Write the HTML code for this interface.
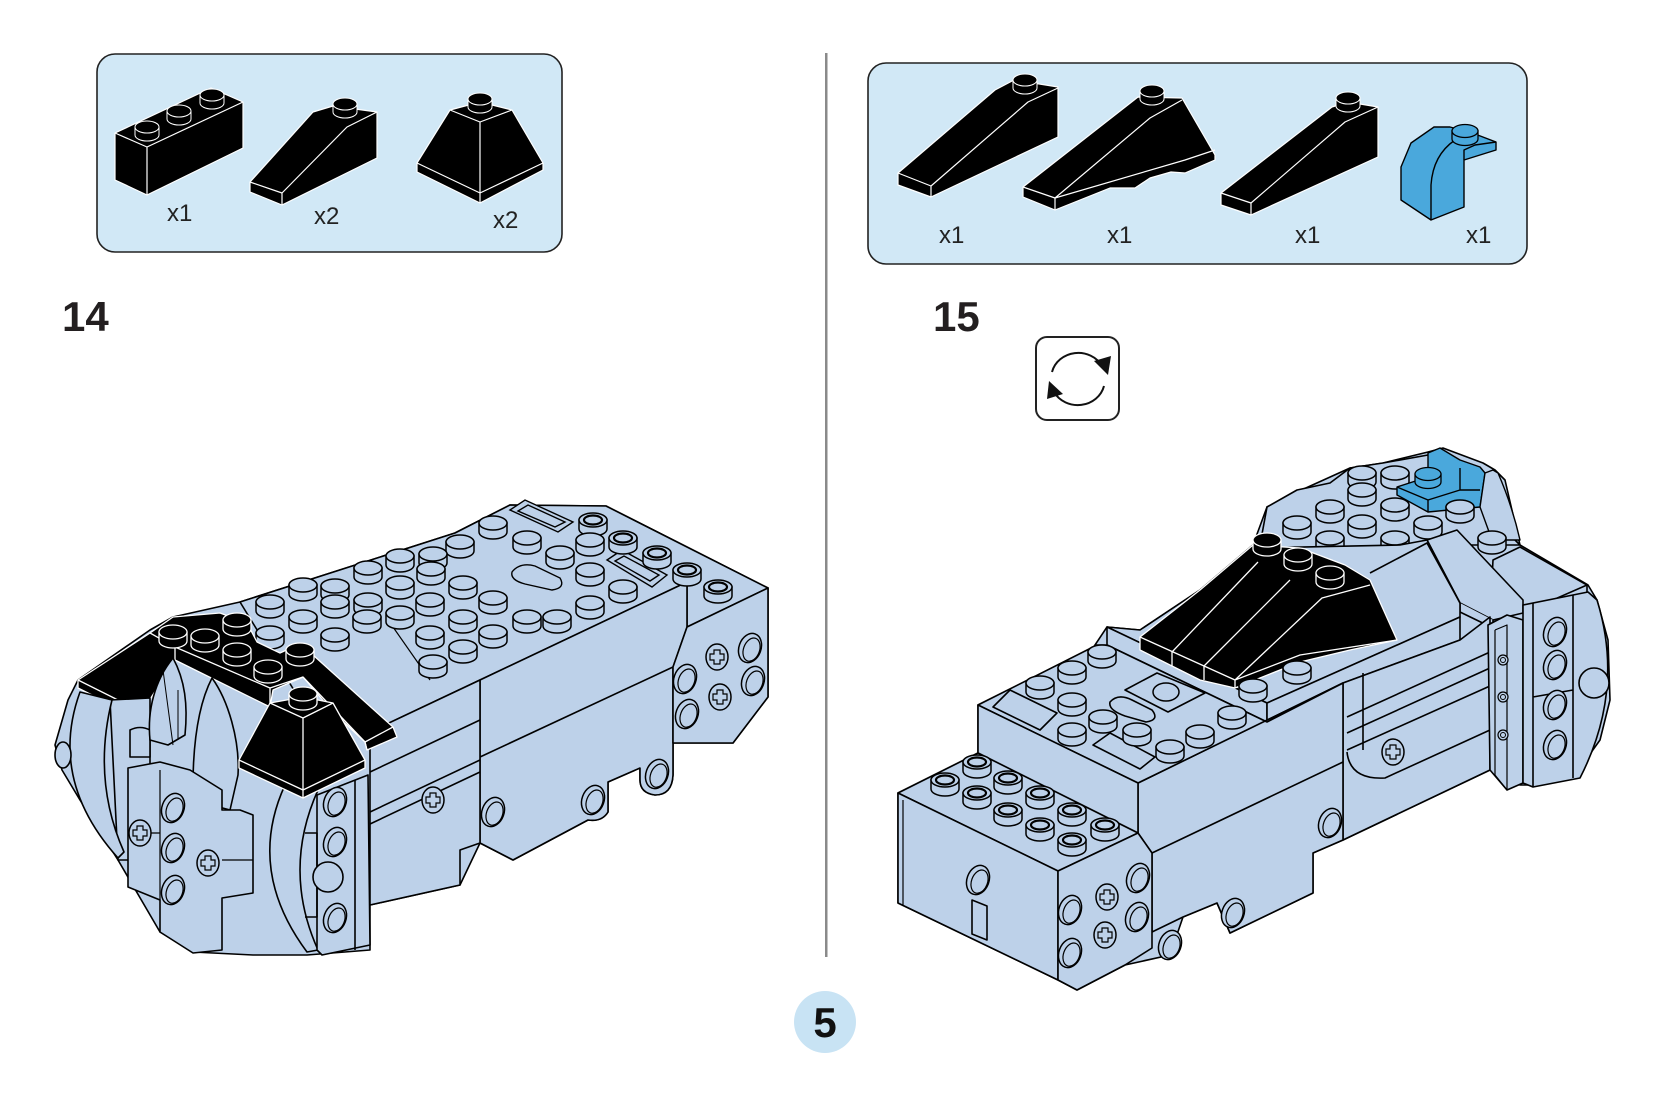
<!DOCTYPE html>
<html><head><meta charset="utf-8"><style>
html,body{margin:0;padding:0;background:#fff;}
svg{display:block;}
text{font-family:"Liberation Sans",Arial,sans-serif;}
</style></head><body>
<svg width="1654" height="1102" viewBox="0 0 1654 1102" xmlns="http://www.w3.org/2000/svg">
<defs>
<g id="st"><path d="M-14,0V9A14,7 0 0 0 14,9V0Z" fill="#bdd1e9" stroke="#000" stroke-width="1.5"/><ellipse rx="14" ry="7" fill="#bdd1e9" stroke="#000" stroke-width="1.5"/></g>
<g id="sh"><path d="M-14,0V9A14,7 0 0 0 14,9V0Z" fill="#bdd1e9" stroke="#000" stroke-width="1.5"/><ellipse rx="14" ry="7" fill="#bdd1e9" stroke="#000" stroke-width="1.5"/><ellipse rx="9" ry="4.5" fill="none" stroke="#000" stroke-width="2.2"/></g>
<g id="sb"><path d="M-14,0V9A14,7 0 0 0 14,9V0Z" fill="#000" stroke="#fff" stroke-width="1.3"/><ellipse rx="14" ry="7" fill="#000" stroke="#fff" stroke-width="1.3"/></g>
<g id="sk"><path d="M-12,0V8A12,6 0 0 0 12,8V0Z" fill="#000" stroke="#fff" stroke-width="1"/><ellipse rx="12" ry="6" fill="#000" stroke="#fff" stroke-width="1"/></g>
<g id="sbl"><path d="M-13,0V8A13,6.5 0 0 0 13,8V0Z" fill="#4aa8dc" stroke="#000" stroke-width="1.3"/><ellipse rx="13" ry="6.5" fill="#4aa8dc" stroke="#000" stroke-width="1.3"/></g>
<g id="ho"><ellipse rx="11" ry="15" transform="rotate(20)" fill="#bdd1e9" stroke="#000" stroke-width="1.5"/><ellipse cx="2" cy="1" rx="8" ry="12" transform="rotate(20)" fill="none" stroke="#000" stroke-width="1.2"/></g>
<g id="cx"><ellipse rx="11" ry="13" fill="#bdd1e9" stroke="#000" stroke-width="1.5"/><path d="M-3,-7h6v4h4v6h-4v4h-6v-4h-4v-6h4z" fill="none" stroke="#000" stroke-width="1.2"/></g>
<g id="sm"><circle r="5" fill="#bdd1e9" stroke="#000" stroke-width="1.2"/><circle r="2.5" fill="none" stroke="#000" stroke-width="1"/></g>
</defs>

<!-- divider -->
<rect x="825" y="53" width="2.5" height="904" fill="#8a8a8a"/>

<!-- parts box 1 -->
<rect x="97" y="54" width="465" height="198" rx="18" ry="18" fill="#d1e8f6" stroke="#222" stroke-width="1.6"/>
<g stroke="#fff" stroke-width="1.2" stroke-linejoin="round">
  <path d="M115,133 L211,88 L243,102 L243,148 L147,195 L115,180 Z" fill="#000"/>
  <path d="M115,133 L147,147 L243,102 M147,147 L147,195" fill="none"/>
  <path d="M250,182 L313,112 L333,106 L377,112 L377,158 L282,205 L250,192 Z" fill="#000"/>
  <path d="M250,182 L282,193 L282,205 M282,193 L347,127 L377,112" fill="none"/>
  <path d="M417,163 L450,110 L480,102 L512,110 L543,163 L543,170 L480,203 L417,172 Z" fill="#000"/>
  <path d="M417,163 L480,193 L543,163 M480,193 L480,203 M450,110 L480,122 L512,110 M480,122 L480,193" fill="none"/>
</g>
<use href="#sk" x="147" y="127"/><use href="#sk" x="179" y="111"/><use href="#sk" x="212" y="95"/>
<use href="#sk" x="345" y="104"/>
<use href="#sk" x="480" y="99"/>
<text x="167" y="221" font-size="24" fill="#222">x1</text>
<text x="314" y="224" font-size="24" fill="#222">x2</text>
<text x="493" y="228" font-size="24" fill="#222">x2</text>

<!-- parts box 2 -->
<rect x="868" y="63" width="659" height="201" rx="18" ry="18" fill="#d1e8f6" stroke="#222" stroke-width="1.6"/>
<g stroke="#fff" stroke-width="1.2" stroke-linejoin="round">
  <path d="M898,173 L995,90 L1014,80 L1058,87 L1058,137 L931,197 L898,185 Z" fill="#000"/>
  <path d="M898,173 L931,186 L931,197 M931,186 L1028,102 L1058,88" fill="none"/>
  <path d="M1023,187 L1138,97 L1182,98 L1215,155 L1215,160 L1185,173 L1171,172 L1150,178 L1135,188 L1110,188 L1055,210 L1023,197 Z" fill="#000"/>
  <path d="M1023,187 L1055,198 L1055,210 M1055,198 L1150,118 L1182,100 M1055,198 L1185,160 L1215,150" fill="none"/>
  <path d="M1221,193 L1332,107 L1348,102 L1378,107 L1378,157 L1251,215 L1221,205 Z" fill="#000"/>
  <path d="M1221,193 L1251,203 L1251,215 M1251,203 L1345,122 L1378,107" fill="none"/>
</g>
<use href="#sk" x="1025" y="80"/><use href="#sk" x="1152" y="91"/><use href="#sk" x="1348" y="98"/>
<g stroke="#000" stroke-width="1.4" stroke-linejoin="round">
  <path d="M1401,200 L1431,220 L1464,207 L1464,160 L1496,150 L1496,142 L1475,134 L1450,127 L1434,127 L1411,143 L1401,167 Z" fill="#4aa8dc"/>
  <path d="M1431,220 L1431,185 Q1433,155 1455,140 M1464,160 L1464,150 L1475,145 L1496,142" fill="none"/>
</g>
<use href="#sbl" x="1465" y="131"/>
<text x="939" y="243" font-size="24" fill="#222">x1</text>
<text x="1107" y="243" font-size="24" fill="#222">x1</text>
<text x="1295" y="243" font-size="24" fill="#222">x1</text>
<text x="1466" y="243" font-size="24" fill="#222">x1</text>

<!-- step numbers -->
<text x="62" y="331" font-size="42" font-weight="bold" fill="#231f20">14</text>
<text x="933" y="331" font-size="42" font-weight="bold" fill="#231f20">15</text>

<!-- rotate icon -->
<rect x="1036" y="337" width="83" height="83" rx="11" ry="11" fill="#fff" stroke="#222" stroke-width="2"/>
<path d="M1052,372 A27,25 0 0 1 1102,366" fill="none" stroke="#111" stroke-width="2"/>
<path d="M1108,375 L1094,361 L1111,356 Z" fill="#111"/>
<path d="M1104,386 A27,25 0 0 1 1054,392" fill="none" stroke="#111" stroke-width="2"/>
<path d="M1049,381 L1047,399 L1063,394 Z" fill="#111"/>

<!-- page number -->
<circle cx="825" cy="1022" r="31" fill="#c8e3f4"/>
<text x="825" y="1037" font-size="42" font-weight="bold" fill="#111" text-anchor="middle">5</text>

<!-- ================= LEFT MODEL ================= -->
<g stroke="#000" stroke-width="1.6" stroke-linejoin="round" fill="#bdd1e9">
  <path d="M55,745 L68,700 L78,680 L150,630 L173,617 L240,602 L455,533 L510,505 L606,506 L768,588 L768,697 L733,743 L673,743 L673,775 Q672,795 655,795 Q640,793 640,780 L640,768 L608,782 L608,812 Q602,822 588,820 L513,860 L480,843 L460,885 L370,905 L370,950 L307,955 L253,955 L193,952 L160,932 L118,860 L80,800 L62,770 Z"/>
  <path d="M240,602 L455,533 L510,505 L606,506 L768,588 L687,627 L687,582 L480,680 L370,732 L300,700 Z"/>
  <path d="M480,680 L687,582 L687,627 L673,667 L673,775 Q672,795 655,795 Q640,793 640,780 L640,768 L608,782 L608,812 Q602,822 588,820 L513,860 L480,843 Z"/>
  <path d="M480,757 L673,667" fill="none"/>
  <path d="M687,627 L768,588 L768,697 L733,743 L673,743 L673,667 Z"/>
  <path d="M370,732 L480,680 L480,843 L460,850 L460,885 L370,905 Z"/>
  <path d="M370,772 L480,720 M370,812 L480,760 M370,824 L480,772" fill="none"/>
  <path d="M393,627 L430,680" fill="none" stroke-width="1.2"/>
</g>
<use href="#ho" x="493" y="812"/><use href="#ho" x="593" y="800"/><use href="#ho" x="657" y="774"/>
<use href="#ho" x="685" y="679"/><use href="#ho" x="750" y="648"/><use href="#ho" x="753" y="681"/><use href="#ho" x="687" y="714"/>
<use href="#cx" x="720" y="697"/><use href="#cx" x="717" y="657"/><use href="#cx" x="433" y="800"/>
<!-- clips -->
<g stroke="#000" stroke-width="1.4" fill="#bdd1e9">
  <path d="M510,510 L525,500 L573,522 L558,532 Z"/><path d="M518,511 L528,505 L565,522 L555,527 Z" fill="none"/>
  <path d="M607,560 L622,550 L667,575 L652,587 Z"/><path d="M615,561 L624,556 L659,575 L650,581 Z" fill="none"/>
  <path d="M512,572 Q520,562 535,566 L560,578 Q566,588 552,590 L525,584 Q510,580 512,572 Z"/>
</g>
<!-- studs left top -->
<use href="#sh" x="593" y="520"/><use href="#st" x="493" y="523"/><use href="#st" x="527" y="538"/><use href="#sh" x="623" y="538"/>
<use href="#st" x="590" y="540"/><use href="#st" x="460" y="542"/><use href="#st" x="560" y="553"/><use href="#sh" x="657" y="553"/>
<use href="#st" x="433" y="554"/><use href="#st" x="400" y="556"/><use href="#st" x="368" y="568"/><use href="#st" x="431" y="569"/>
<use href="#st" x="590" y="570"/><use href="#sh" x="687" y="570"/><use href="#st" x="463" y="583"/><use href="#st" x="400" y="583"/>
<use href="#st" x="303" y="585"/><use href="#st" x="335" y="586"/><use href="#st" x="623" y="587"/><use href="#sh" x="718" y="587"/>
<use href="#st" x="493" y="598"/><use href="#st" x="430" y="600"/><use href="#st" x="368" y="600"/><use href="#st" x="270" y="602"/>
<use href="#st" x="335" y="602"/><use href="#st" x="590" y="603"/><use href="#st" x="400" y="613"/><use href="#st" x="367" y="617"/>
<use href="#st" x="463" y="617"/><use href="#st" x="527" y="617"/><use href="#st" x="557" y="617"/><use href="#st" x="303" y="617"/>
<use href="#st" x="493" y="632"/><use href="#st" x="430" y="633"/><use href="#st" x="270" y="633"/><use href="#st" x="335" y="635"/>
<use href="#st" x="463" y="647"/><use href="#st" x="433" y="662"/>

<!-- black wing -->
<g stroke="#fff" stroke-width="1.3" stroke-linejoin="round">
  <path d="M78,680 L150,633 L173,617 L220,613 L247,623 L257,642 L280,653 L293,647 L313,655 L393,727 L397,737 L367,750 L365,742 L333,712 L303,677 L273,690 L270,707 L175,660 L142,712 L142,720 L78,688 Z" fill="#000"/>
  <path d="M78,680 L142,712 M175,647 L270,688 L270,707 M270,688 L303,677 M303,677 L365,742 L367,750 M365,742 L393,727 M150,633 L175,647 L175,660" fill="none"/>
</g>
<use href="#sb" x="237" y="620"/><use href="#sb" x="173" y="632"/><use href="#sb" x="205" y="636"/>
<use href="#sb" x="237" y="650"/><use href="#sb" x="300" y="650"/><use href="#sb" x="268" y="667"/>

<!-- front end pieces -->
<g stroke="#000" stroke-width="1.6" stroke-linejoin="round" fill="#bdd1e9">
  <path d="M110,700 L150,698 L150,860 L118,860 Z"/>
  <path d="M80,692 Q48,780 118,858 L124,852 Q92,780 112,700 Z"/>
  <ellipse cx="63" cy="755" rx="8" ry="13"/>
  <path d="M285,785 Q246,870 307,952 L318,950 Q282,870 318,790 Z"/>
  <path d="M317,795 L368,775 L370,945 L322,955 L317,950 Z"/>
  <path d="M355,780 L355,950 M305,833 L317,833 L317,917 L305,917" fill="none"/>
  <path d="M130,730 Q140,725 150,730 L150,757 L130,757 Z"/>
  <path d="M150,740 C147,710 155,680 173,658 C185,680 188,705 185,735 L168,745 Z"/>
  <path d="M163,670 L173,745 M178,690 L178,740" fill="none" stroke-width="1"/>
  <path d="M193,800 C192,745 198,705 212,678 C228,700 240,740 238,775 L230,810 Z"/>
  <path d="M128,768 L160,762 L190,770 L222,790 L222,810 L240,810 L253,815 L253,893 L222,898 L222,950 L193,953 L160,932 L160,900 L128,887 Z"/>
  <path d="M160,770 L160,900 M128,833 L160,833 M222,860 L253,860" fill="none" stroke-width="1.2"/>
</g>
<use href="#ho" x="173" y="808"/><use href="#ho" x="173" y="848"/><use href="#ho" x="173" y="890"/>
<use href="#cx" x="140" y="833"/><use href="#cx" x="208" y="863"/>
<use href="#ho" x="335" y="802"/><use href="#ho" x="335" y="842"/><use href="#ho" x="335" y="918"/>
<circle cx="328" cy="877" r="15" fill="#bdd1e9" stroke="#000" stroke-width="1.6"/>
<!-- pyramid -->
<g stroke="#fff" stroke-width="1.3" stroke-linejoin="round">
  <path d="M239,760 L270,703 L303,697 L333,703 L365,760 L365,768 L303,798 L239,768 Z" fill="#000"/>
  <path d="M239,760 L303,790 L365,760 M303,790 L303,798 M270,703 L303,718 L333,703 M303,718 L303,790" fill="none"/>
</g>
<use href="#sb" x="303" y="694"/>

<!-- ================= RIGHT MODEL ================= -->
<g stroke="#000" stroke-width="1.6" stroke-linejoin="round" fill="#bdd1e9">
  <path d="M898,793 L978,753 L978,705 L1093,648 L1107,627 L1140,630 L1200,590 L1253,545 L1267,507 L1297,492 L1350,468 L1383,463 L1428,452 L1443,448 L1483,463 L1495,470 L1505,480 L1520,545 L1588,585 L1597,600 L1608,640 L1610,700 L1600,740 L1575,775 L1535,785 L1520,785 L1490,770 L1343,840 L1313,853 L1313,893 L1230,933 L1217,903 L1183,917 L1170,955 L1125,965 L1077,990 L1058,980 L898,903 Z"/>
  <!-- upper top plate -->
  <path d="M1267,507 L1297,490 L1330,483 L1350,468 L1383,463 L1428,455 L1483,480 L1495,520 L1520,545 L1440,545 L1400,548 L1370,565 L1330,580 L1260,545 Z"/>
</g>
<use href="#st" x="1362" y="473"/><use href="#st" x="1395" y="473"/><use href="#st" x="1362" y="490"/>
<g stroke="#000" stroke-width="1.4" stroke-linejoin="round">
  <path d="M1397,487 L1428,477 L1428,453 L1440,448 L1460,460 L1480,467 L1485,473 L1480,507 L1428,512 L1397,495 Z" fill="#4aa8dc"/>
  <path d="M1397,487 L1428,500 L1428,512 M1428,500 L1460,490 L1460,468 M1460,490 L1480,490" fill="none"/>
  <path d="M1485,473 L1493,470 L1498,473 Q1512,505 1520,540 L1492,540 L1480,507 Z" fill="#bdd1e9"/>
</g>
<use href="#sbl" x="1428" y="474"/>
<use href="#st" x="1395" y="505"/><use href="#st" x="1330" y="507"/><use href="#st" x="1460" y="507"/>
<use href="#st" x="1297" y="523"/><use href="#st" x="1362" y="522"/><use href="#st" x="1428" y="523"/>
<use href="#st" x="1330" y="538"/><use href="#st" x="1395" y="538"/><use href="#st" x="1492" y="538"/>
<use href="#st" x="1362" y="553"/>
<g stroke="#000" stroke-width="1.6" stroke-linejoin="round" fill="#bdd1e9">
  <!-- rear plate and slope bar -->
  <path d="M1493,560 L1520,547 L1587,585 L1587,597 L1523,627 L1490,617 Z"/>
  <path d="M1523,613 L1587,585" fill="none"/>
  <path d="M1427,540 L1457,530 L1523,600 L1523,613 L1493,620 L1460,603 Z"/>
  <path d="M1460,603 L1460,612 L1493,628 L1493,620" />
  <!-- raised block -->
  <path d="M1107,627 L1140,630 L1200,590 L1253,548 L1400,545 L1427,540 L1460,603 L1460,617 L1267,703 Z"/>
  <path d="M1107,627 L1267,703 L1267,722 L1107,645 Z"/>
  <path d="M1267,703 L1460,617 L1460,640 L1343,683 L1267,722 Z"/>
  <path d="M1370,573 L1427,543 L1460,603" fill="none"/>
</g>
<!-- black slopes -->
<g stroke="#fff" stroke-width="1.3" stroke-linejoin="round">
  <path d="M1140,637 L1200,590 L1253,545 L1300,548 L1345,565 L1370,580 L1397,640 L1350,650 L1300,662 L1235,688 L1200,680 L1140,650 Z" fill="#000"/>
  <path d="M1140,637 L1235,680 L1235,688 M1172,652 L1172,666 M1204,666 L1204,680 M1172,652 L1258,562 M1204,666 L1290,580 M1235,680 L1322,598 L1370,585 M1235,680 L1300,655 L1397,640" fill="none"/>
</g>
<use href="#sb" x="1267" y="540"/><use href="#sb" x="1298" y="555"/><use href="#sb" x="1330" y="573"/>
<use href="#st" x="1297" y="668"/><use href="#st" x="1253" y="686"/>
<g stroke="#000" stroke-width="1.6" stroke-linejoin="round" fill="#bdd1e9">
  <!-- rear section -->
  <path d="M1343,683 L1460,640 L1490,617 L1490,770 L1343,840 Z"/>
  <path d="M1363,673 L1363,750 M1347,717 L1490,652 M1347,733 L1490,668 M1347,750 L1490,686" fill="none"/>
  <path d="M1347,752 Q1350,780 1385,778 L1490,730" fill="none"/>
  <!-- long side -->
  <path d="M1138,783 L1343,683 L1343,840 L1313,853 L1313,893 L1230,933 L1217,903 L1183,917 L1152,932 L1152,853 L1138,833 Z"/>
  <path d="M1152,853 L1343,762" fill="none"/>
  <!-- technic beam -->
  <path d="M1488,625 L1507,615 L1523,620 L1523,783 L1507,790 L1490,770 Z"/>
  <path d="M1495,630 L1495,775 L1507,790 M1495,630 L1507,625 L1507,790" fill="none" stroke-width="1.2"/>
  <!-- end face -->
  <path d="M1523,605 L1588,592 L1597,600 Q1625,690 1580,778 L1533,787 L1523,783 Z"/>
  <path d="M1533,603 L1533,787 M1573,595 L1573,778 M1533,697 L1573,690" fill="none"/>
  <circle cx="1594" cy="683" r="15"/>
  <!-- middle block top and front -->
  <path d="M978,705 L1097,645 L1107,645 L1267,722 L1343,683 L1138,783 Z"/>
  <path d="M978,705 L1138,783 L1138,833 L978,753 Z"/>
  <!-- button square -->
  <path d="M1125,690 L1157,673 L1205,693 L1168,712 Z"/>
  <path d="M1110,702 Q1118,693 1132,700 L1152,710 Q1160,720 1146,722 L1125,716 Q1108,710 1110,702 Z"/>
  <path d="M993,707 L1010,690 L1057,713 L1040,730 Z"/>
  <path d="M1093,745 L1110,733 L1155,757 L1140,769 Z"/>
</g>
<ellipse cx="1166" cy="692" rx="13" ry="9" fill="#bdd1e9" stroke="#000" stroke-width="1.5"/>
<use href="#st" x="1102" y="652"/><use href="#st" x="1072" y="668"/><use href="#st" x="1040" y="683"/>
<use href="#st" x="1072" y="700"/><use href="#st" x="1232" y="713"/><use href="#st" x="1103" y="717"/>
<use href="#st" x="1072" y="730"/><use href="#st" x="1137" y="730"/><use href="#st" x="1200" y="732"/><use href="#st" x="1170" y="747"/>
<g stroke="#000" stroke-width="1.6" stroke-linejoin="round" fill="#bdd1e9">
  <path d="M898,793 L978,753 L1138,833 L1058,871 Z"/>
  <path d="M898,793 L1058,871 L1058,980 L898,903 Z"/>
  <path d="M903,800 L903,905" fill="none" stroke-width="1.2"/>
  <path d="M1058,871 L1138,833 L1152,853 L1152,948 L1125,965 L1077,990 L1058,980 Z"/>
  <path d="M972,900 L987,906 L987,940 L972,934 Z"/>
</g>
<use href="#sh" x="977" y="762"/><use href="#sh" x="1008" y="778"/><use href="#sh" x="945" y="780"/>
<use href="#sh" x="977" y="793"/><use href="#sh" x="1040" y="793"/><use href="#sh" x="1008" y="810"/>
<use href="#sh" x="1072" y="810"/><use href="#sh" x="1040" y="825"/><use href="#sh" x="1105" y="825"/><use href="#sh" x="1072" y="840"/>
<use href="#ho" x="978" y="880"/>
<use href="#ho" x="1138" y="878"/><use href="#ho" x="1070" y="910"/><use href="#ho" x="1137" y="917"/><use href="#ho" x="1070" y="953"/>
<use href="#cx" x="1107" y="897"/><use href="#cx" x="1105" y="935"/>
<use href="#ho" x="1170" y="945"/><use href="#ho" x="1233" y="913"/><use href="#ho" x="1330" y="823"/>
<use href="#cx" x="1393" y="752"/>
<use href="#ho" x="1555" y="632"/><use href="#ho" x="1555" y="665"/><use href="#ho" x="1555" y="705"/><use href="#ho" x="1555" y="745"/>
<use href="#sm" x="1503" y="660"/><use href="#sm" x="1503" y="697"/><use href="#sm" x="1503" y="735"/>
</svg>
</body></html>
